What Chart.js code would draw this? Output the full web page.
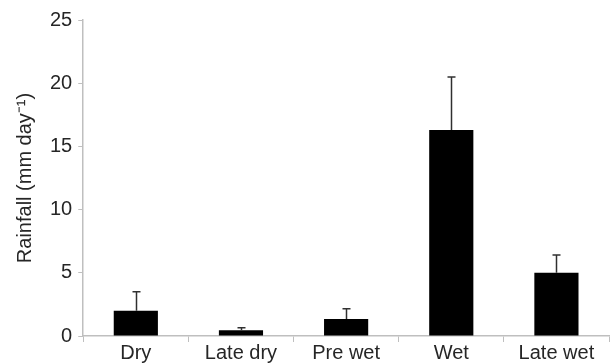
<!DOCTYPE html>
<html>
<head>
<meta charset="utf-8">
<script src="https://cdn.jsdelivr.net/npm/chart.js@4/dist/chart.umd.min.js"></script>
<style>
  html, body { margin: 0; padding: 0; background: #fff; }
  #wrap { width: 610px; height: 364px; }
</style>
</head>
<body>
<div id="wrap"><canvas id="myChart"></canvas></div>
<script>
// ==== data ====
const seasons = ["Dry", "Late dry", "Pre wet", "Wet", "Late wet"];
const rainfall = [2.0, 0.45, 1.35, 16.3, 5.0];
const rainfallErr = [1.5, 0.2, 0.8, 4.2, 1.4];
const yTicks = [0, 5, 10, 15, 20, 25];

const axisGrey = "#bfbfbf";
const textGrey = "#262626";

// ==== upward error bars with a cap ====
const errorBars = {
    id: "errorBars",
    afterDatasetsDraw(chart) {
        const ctx = chart.ctx;
        const yScale = chart.scales.y;
        const meta = chart.getDatasetMeta(0);
        ctx.save();
        ctx.strokeStyle = "#303030";
        ctx.lineWidth = 1.5;
        meta.data.forEach((bar, i) => {
            const x = Math.round(bar.x) + 0.5;
            const yTop = yScale.getPixelForValue(rainfall[i] + rainfallErr[i]);
            ctx.beginPath();
            ctx.moveTo(x, bar.y);
            ctx.lineTo(x, yTop);
            ctx.moveTo(x - 4, yTop);
            ctx.lineTo(x + 4, yTop);
            ctx.stroke();
        });
        ctx.restore();
    }
};

const data = {
    labels: seasons,
    datasets: [{
        data: rainfall,
        backgroundColor: "#000000",
        borderWidth: 0,
        categoryPercentage: 1,
        barPercentage: 0.42
    }]
};

const config = {
    type: "bar",
    data: data,
    plugins: [errorBars],
    options: {
        responsive: true,
        maintainAspectRatio: false,
        animation: false,
        layout: { padding: { top: 20, right: 1, left: 13, bottom: 0 } },
        plugins: { legend: { display: false }, tooltip: { enabled: false } },
        scales: {
            x: {
                grid: { display: true, drawOnChartArea: false, offset: true, color: axisGrey, tickLength: 6 },
                border: { color: axisGrey, width: 1.5 },
                ticks: { color: textGrey, font: { family: "Liberation Sans", size: 20 }, padding: -1, maxRotation: 0 }
            },
            y: {
                min: 0,
                max: 25,
                afterBuildTicks: (axis) => { axis.ticks = yTicks.map(v => ({ value: v })); },
                grid: { display: true, drawOnChartArea: false, color: axisGrey, tickLength: 5 },
                border: { color: axisGrey, width: 1.5 },
                ticks: { color: textGrey, font: { family: "Liberation Sans", size: 20 }, padding: 6 },
                title: {
                    display: true,
                    text: "Rainfall (mm day\u207B\u00B9)",
                    color: textGrey,
                    font: { family: "Liberation Sans", size: 20 },
                    padding: { top: 0, bottom: 7 }
                }
            }
        }
    }
};

let myChart = new Chart(document.getElementById("myChart"), config);
</script>
</body>
</html>
